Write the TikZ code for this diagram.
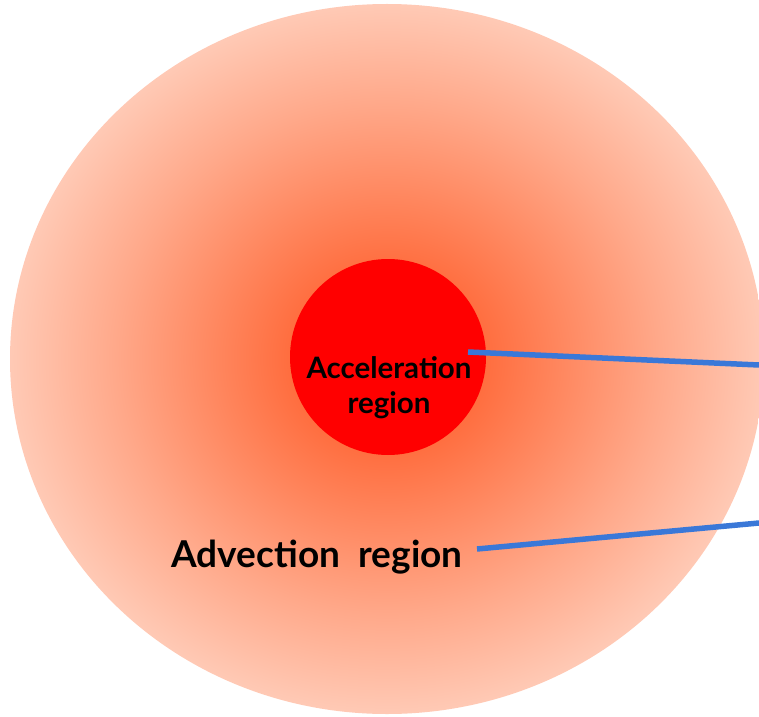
\documentclass[tikz,border=0pt]{standalone}
\usepackage{fontspec}
\setmainfont{Lato}
\pgfdeclareradialshading{advshade}{\pgfpoint{0bp}{0bp}}{%
  rgb(0bp)=(1,0.36,0.16);
  rgb(5bp)=(1,0.40,0.21);
  rgb(11bp)=(1,0.52,0.36);
  rgb(18bp)=(1,0.66,0.54);
  rgb(25bp)=(1,0.79,0.71);
  rgb(50bp)=(1,0.79,0.71)}
\definecolor{accred}{RGB}{255,0,0}
\definecolor{lineblue}{RGB}{58,120,216}
\tikzset{
  region/.style={inner sep=0pt, outer sep=0pt},
  lbl/.style={font=\bfseries, text=black, inner sep=0pt, anchor=base},
  connector/.style={draw=lineblue, line width=5.5pt, line cap=butt}
}
\begin{document}
\begin{tikzpicture}[x=1pt,y=1pt]
  \fill[white] (0,0) rectangle (759,716);
  \useasboundingbox (0,0) rectangle (759,716);
  % advection region
  \shade[shading=advshade] (387,357) ellipse [x radius=377, y radius=355];
  \coordinate (advc) at (387,357);
  % acceleration region
  \node[region, circle, fill=accred, minimum size=196pt] (acc) at (388,359) {};
  \node[lbl, font=\bfseries\fontsize{29.5}{34}\selectfont] (acc1) at (389,338) {Acceleration};
  \node[lbl, font=\bfseries\fontsize{29.5}{34}\selectfont] (acc2) at (389,303) {region};
  \node[lbl, font=\bfseries\fontsize{37}{44}\selectfont] (adv) at (317,149) {Advection\hspace{0.5em}region};
  % connectors
  \coordinate (c1s) at (468,364);
  \coordinate (c1e) at (759,351);
  \coordinate (c2s) at (477,167);
  \coordinate (c2e) at (759,193);
  \draw[connector] (c1s) -- (c1e);
  \draw[connector] (c2s) -- (c2e);
\end{tikzpicture}
\end{document}
